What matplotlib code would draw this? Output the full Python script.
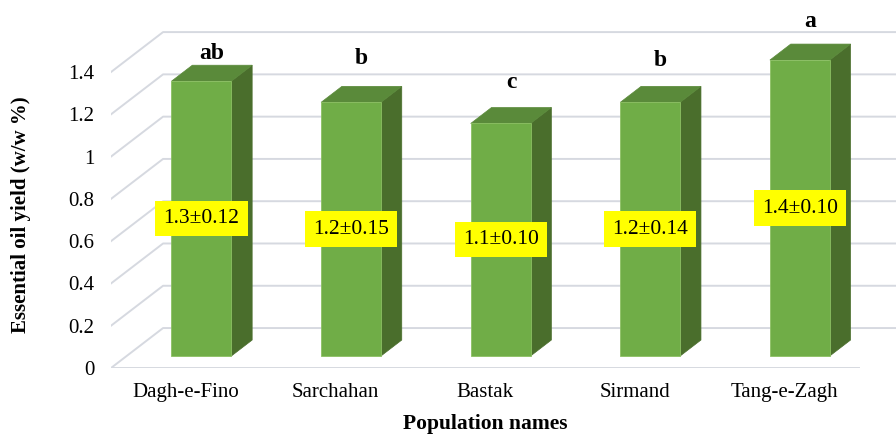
import numpy as np
import matplotlib
matplotlib.use("Agg")
import matplotlib.pyplot as plt
from matplotlib.patches import Polygon

# Datos
populations = ["Dagh-e-Fino", "Sarchahan", "Bastak", "Sirmand", "Tang-e-Zagh"]
yield_mean = [1.3, 1.2, 1.1, 1.2, 1.4]
yield_sd = [0.12, 0.15, 0.10, 0.14, 0.10]
letters = ["ab", "b", "c", "b", "a"]
letter_y = [1.49, 1.465, 1.35, 1.455, 1.64]
yticks = [0, 0.2, 0.4, 0.6, 0.8, 1, 1.2, 1.4]

plt.rcParams["font.family"] = ["Liberation Serif", "DejaVu Serif"]

# Profundidad (proyeccion oblicua) en unidades de datos
DX = 0.348   # desplazamiento en x de la pared del fondo
DY = 0.189   # desplazamiento en y de la pared del fondo
Z0, Z1 = 0.3, 0.7   # profundidad frontal/trasera de las barras
W = 0.4

FRONT = "#70ad47"
TOP = "#5a8a3a"
SIDE = "#4a6e2c"
GRID = "#d6d9e0"

fig = plt.figure(figsize=(8.96, 4.34), dpi=100)
ax = fig.add_axes([111 / 896, 66 / 434, 785 / 896, 368 / 434])
ax.set_xlim(-0.5, -0.5 + 785 / 149.6)
ax.set_ylim(0, 368 / 211.4)

# Lineas de grilla: diagonal en el piso/pared izquierda + horizontal al fondo
xmax = ax.get_xlim()[1] + 0.5
for v in yticks:
    ax.plot([-0.5, -0.5 + DX, xmax], [v, v + DY, v + DY], color=GRID,
            lw=1.4, zorder=1, clip_on=True)
ax.plot([-0.5, 4.5], [0, 0], color=GRID, lw=1.4, zorder=1)

for i, val in enumerate(yield_mean):
    x0 = i - W / 2 + Z0 * DX
    y0 = Z0 * DY
    dx = (Z1 - Z0) * DX
    dy = (Z1 - Z0) * DY
    front = [(x0, y0), (x0 + W, y0), (x0 + W, y0 + val), (x0, y0 + val)]
    top = [(x0, y0 + val), (x0 + W, y0 + val), (x0 + W + dx, y0 + val + dy),
           (x0 + dx, y0 + val + dy)]
    side = [(x0 + W, y0), (x0 + W + dx, y0 + dy), (x0 + W + dx, y0 + val + dy),
            (x0 + W, y0 + val)]
    ax.add_patch(Polygon(side, closed=True, fc=SIDE, ec=SIDE, lw=0.5, zorder=3))
    ax.add_patch(Polygon(top, closed=True, fc=TOP, ec=TOP, lw=0.5, zorder=3))
    ax.add_patch(Polygon(front, closed=True, fc=FRONT, ec="#8cc063", lw=0.6, zorder=4))

    # etiqueta de valor
    ax.text(x0 + W / 2, y0 + val / 2, f"{val:.1f}\u00b1{yield_sd[i]:.2f}",
            ha="center", va="center", fontsize=15.5, zorder=6,
            bbox=dict(boxstyle="square,pad=0.38", fc="#ffff00", ec="none"))
    # letra de significancia
    ax.text(x0 + W / 2 + dx / 2, letter_y[i], letters[i], ha="center",
            va="center", fontsize=17, fontweight="bold", zorder=6, clip_on=False)

ax.set_yticks(yticks)
ax.set_yticklabels([f"{t:g}" for t in yticks])
ax.set_xticks(range(len(populations)))
ax.set_xticklabels(populations)
ax.tick_params(axis="y", length=0, pad=12, labelsize=15)
ax.tick_params(axis="x", length=0, pad=11, labelsize=15)
for s in ax.spines.values():
    s.set_visible(False)

fig.text(21 / 896, 1 - 215 / 434, "Essential oil yield (w/w %)", rotation=90,
         ha="center", va="center", fontsize=15, fontweight="bold")
fig.text(485 / 896, 1 - 424 / 434, "Population names", ha="center",
         va="center", fontsize=15.5, fontweight="bold")

fig.savefig("out.png", dpi=100)
